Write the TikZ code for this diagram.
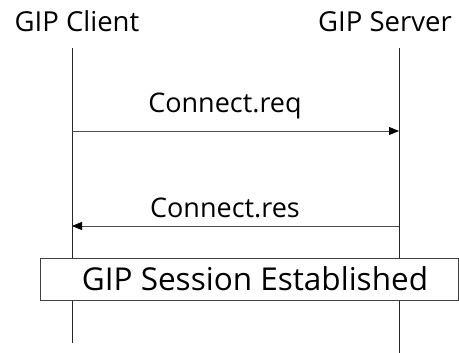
\documentclass[tikz,border=0pt]{standalone}
\usepackage{fontspec}
\setmainfont{Open Sans}
\usetikzlibrary{arrows.meta}
\begin{document}
\begin{tikzpicture}[x=1pt,y=-1pt,
  actor/.style={font=\fontsize{27.5}{27.5}\selectfont, inner sep=0pt, anchor=base},
  msg/.style={font=\fontsize{27}{27}\selectfont, inner sep=0pt, anchor=base},
  lifeline/.style={line width=0.9pt, black!85},
  call/.style={line width=0.8pt, black!70, -{Triangle[length=10pt,width=8pt,black]}},
  banner/.style={draw=black!75, line width=0.8pt, fill=white, minimum width=418pt,
    minimum height=42pt, inner sep=0pt, font=\fontsize{31.5}{31.5}\selectfont}]
  \useasboundingbox (0,0) rectangle (459,353);
  % participants
  \node[actor] (client) at (77,32) {GIP Client};
  \node[actor] (server) at (385,32) {GIP Server};
  % lifelines
  \coordinate (cTop) at (72,48);
  \coordinate (cBot) at (72,343);
  \coordinate (sTop) at (399,48);
  \coordinate (sBot) at (399,353);
  \draw[lifeline] (cTop) -- (cBot);
  \draw[lifeline] (sTop) -- (sBot);
  % messages
  \coordinate (reqFrom) at (72,131);
  \coordinate (reqTo) at (399,131);
  \draw[call] (reqFrom) -- (reqTo);
  \node[msg] (req) at (225,113) {Connect.req};
  \coordinate (resFrom) at (399,226);
  \coordinate (resTo) at (72,226);
  \draw[call] (resFrom) -- (resTo);
  \node[msg] (res) at (225,218) {Connect.res};
  % session state
  \node[banner] (session) at (249,279) {\hspace{12pt}GIP Session Established};
\end{tikzpicture}
\end{document}
